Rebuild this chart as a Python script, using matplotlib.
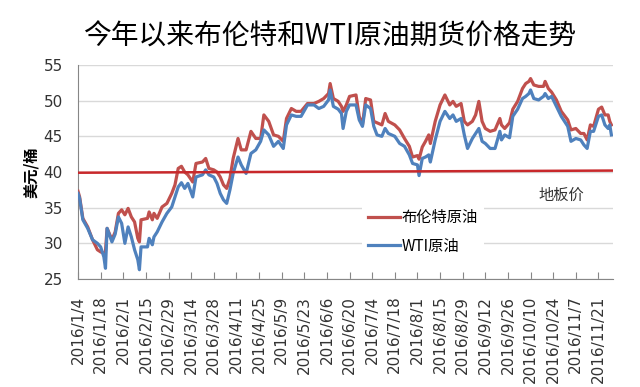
import numpy as np
import pandas as pd
import matplotlib
matplotlib.use("Agg")
import matplotlib.pyplot as plt

plt.rcParams['font.family'] = ['Noto Sans CJK SC', 'DejaVu Sans']

# days after 2016/1/4
days = [0, 1, 3, 6, 9, 12, 14, 16, 17, 18, 21, 23, 25, 27, 29, 31, 33, 35, 37, 38,
        39, 43, 44, 46, 47, 49, 52, 55, 58, 60, 62, 64, 66, 68, 71, 73, 77, 79, 81, 84,
        86, 88, 90, 92, 94, 96, 99, 101, 104, 107, 110, 113, 115, 118, 121, 124, 127, 129, 132, 135,
        138, 142, 146, 149, 152, 155, 156, 158, 161, 163, 164, 166, 168, 172, 174, 176, 178, 181, 183, 185,
        188, 190, 192, 196, 199, 202, 205, 207, 210, 211, 213, 215, 217, 218, 221, 224, 227, 230, 232, 234,
        237, 239, 241, 244, 246, 248, 250, 252, 255, 258, 261, 262, 264, 267, 269, 272, 275, 277, 279, 280,
        282, 285, 288, 289, 291, 293, 296, 299, 303, 305, 308, 311, 313, 315, 317, 319, 322, 324, 326, 328,
        329, 330]

brent = [37.3, 36.5, 33.5, 32.3, 30.5, 29.1, 28.8, 28.6, 28.9, 32.1, 30.5, 31.6, 34.2, 34.7, 34.0, 34.9, 33.7, 33.0, 30.7, 30.2,
         33.3, 33.5, 34.4, 33.3, 34.2, 33.5, 35.1, 35.6, 37.0, 38.2, 40.5, 40.8, 40.0, 39.6, 38.6, 41.2, 41.4, 41.9, 40.5, 40.3,
         40.0, 39.3, 38.2, 37.7, 39.1, 41.9, 44.7, 43.1, 43.1, 45.7, 44.7, 44.7, 48.0, 47.1, 45.2, 45.0, 44.3, 47.5, 48.9, 48.5,
         48.5, 49.6, 49.6, 49.9, 50.3, 51.0, 52.4, 50.3, 49.9, 49.2, 48.5, 49.4, 50.6, 50.8, 47.8, 46.6, 50.3, 50.1, 47.1, 46.9,
         46.6, 48.2, 47.1, 46.6, 45.9, 44.7, 43.6, 42.1, 42.3, 41.8, 43.5, 44.3, 45.2, 44.0, 47.1, 49.4, 50.8, 49.4, 49.9, 49.2,
         49.6, 47.1, 46.6, 47.1, 48.0, 49.9, 47.1, 46.1, 45.7, 45.9, 47.5, 46.6, 46.1, 46.9, 48.8, 49.9, 51.7, 52.4, 52.7, 53.1,
         52.2, 52.0, 52.0, 52.7, 51.7, 51.2, 50.1, 48.5, 47.3, 45.9, 46.1, 45.4, 45.4, 44.5, 46.6, 46.4, 48.8, 49.1, 48.0, 48.0,
         47.1, 46.6]

wti = [37.0, 36.3, 33.3, 32.1, 30.5, 30.0, 29.5, 28.1, 26.5, 32.1, 30.2, 31.3, 33.7, 32.8, 30.0, 32.3, 30.9, 29.1, 27.7, 26.3,
       29.5, 29.5, 30.7, 29.8, 30.9, 31.6, 33.0, 34.2, 35.1, 36.5, 37.9, 38.5, 37.7, 38.4, 36.5, 39.3, 39.6, 40.3, 39.6, 39.3,
       38.4, 37.0, 36.1, 35.6, 37.5, 39.8, 42.1, 41.0, 39.8, 42.6, 43.1, 44.3, 45.9, 45.2, 43.6, 44.3, 43.3, 46.6, 48.0, 47.8,
       47.8, 49.4, 49.4, 48.9, 49.2, 50.1, 51.5, 49.2, 48.8, 48.2, 46.1, 48.5, 49.4, 49.4, 47.3, 46.4, 49.4, 48.9, 46.4, 45.2,
       45.0, 46.1, 45.4, 45.0, 44.0, 43.6, 42.4, 41.2, 41.0, 39.5, 41.9, 42.1, 42.4, 41.4, 44.5, 47.1, 48.5, 47.5, 48.0, 47.1,
       47.5, 45.2, 43.3, 44.7, 45.4, 46.1, 44.3, 44.0, 43.3, 43.3, 45.7, 44.5, 45.2, 44.8, 47.8, 48.8, 50.3, 50.6, 51.0, 51.5,
       50.3, 50.1, 50.6, 51.0, 50.3, 50.6, 49.2, 47.8, 46.4, 44.3, 44.7, 44.5, 43.8, 43.3, 45.7, 45.7, 47.8, 48.0, 46.6, 46.1,
       46.6, 45.2]

floor_days = [0, 331]
floor_vals = [39.9, 40.2]

tick_labels = ['2016/1/4', '2016/1/18', '2016/2/1', '2016/2/15', '2016/2/29', '2016/3/14',
               '2016/3/28', '2016/4/11', '2016/4/25', '2016/5/9', '2016/5/23', '2016/6/6',
               '2016/6/20', '2016/7/4', '2016/7/18', '2016/8/1', '2016/8/15', '2016/8/29',
               '2016/9/12', '2016/9/26', '2016/10/10', '2016/10/24', '2016/11/7', '2016/11/21']

start = pd.Timestamp('2016-01-04')
dates = start + pd.to_timedelta(days, unit='D')
floor_dates = start + pd.to_timedelta(floor_days, unit='D')
tick_dates = pd.to_datetime(tick_labels, format='%Y/%m/%d')

fig = plt.figure(figsize=(6.4, 3.87), dpi=100)
ax = fig.add_axes([78 / 640, 1 - 279 / 387, 535 / 640, 214 / 387])

ax.plot(dates, brent, color='#C0504D', lw=2.3, label='布伦特原油', zorder=3)
ax.plot(dates, wti, color='#4F81BD', lw=2.3, label='WTI原油', zorder=3)
ax.plot(floor_dates, floor_vals, color='#C8282B', lw=1.8, zorder=4)

ax.set_ylim(25, 55)
ax.set_yticks(np.arange(25, 56, 5))
ax.set_xlim(start, start + pd.Timedelta(days=331))
ax.set_xticks(tick_dates)
ax.set_xticklabels(tick_labels, rotation=90, fontsize=11, family='DejaVu Sans', color='#333333')
ax.tick_params(axis='x', direction='in', length=5, color='#868686', pad=12)
ax.tick_params(axis='y', length=0, pad=11, labelsize=11, labelcolor='#333333')
for lab in ax.get_yticklabels():
    lab.set_family('DejaVu Sans')

ax.grid(axis='y', color='#D9D9D9', lw=1)
ax.set_axisbelow(True)
for s in ['top', 'right']:
    ax.spines[s].set_visible(False)
for s in ['left', 'bottom']:
    ax.spines[s].set_color('#868686')

ax.set_ylabel('美元/桶', fontsize=11, fontweight='bold', labelpad=3)

fig.text(0.515, 0.905, '今年以来布伦特和WTI原油期货价格走势', ha='center', va='center', fontsize=20)
fig.text(538 / 640, 1 - 195 / 387, '地板价', ha='left', va='center', fontsize=11, color='#333333')

leg = ax.legend(loc='upper left', bbox_to_anchor=(362 / 640, 1 - 203 / 387),
                bbox_transform=fig.transFigure, fontsize=11, frameon=True,
                framealpha=1, edgecolor='none', facecolor='white',
                handlelength=2.1, handletextpad=0.1, labelspacing=0.75, borderaxespad=0)
for line in leg.get_lines():
    line.set_linewidth(2.3)

fig.savefig('out.png', dpi=100)
